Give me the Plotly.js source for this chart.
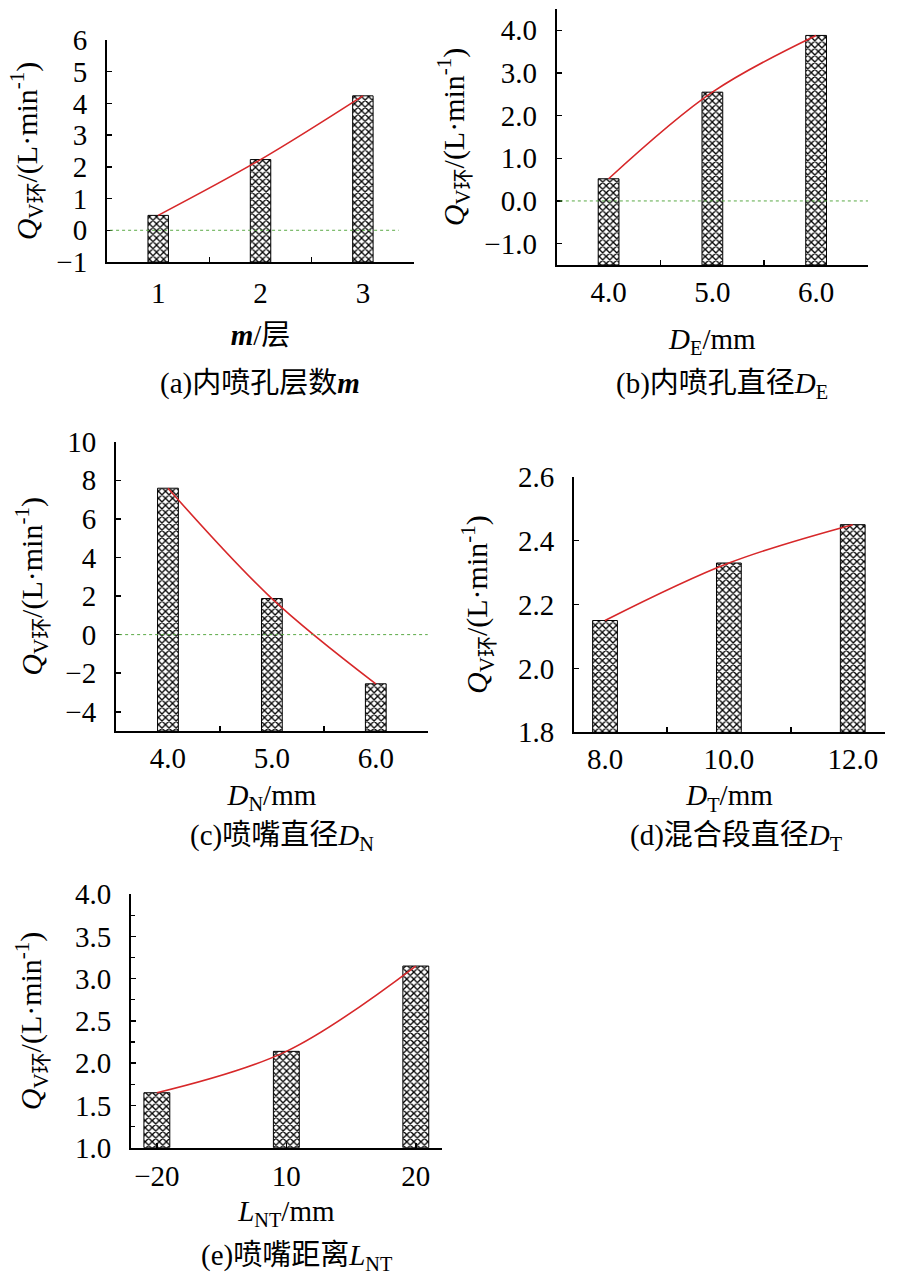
<!DOCTYPE html>
<html>
<head>
<meta charset="utf-8">
<script src="https://cdn.plot.ly/plotly-3.0.1.min.js"></script>
<style>
  html, body { margin: 0; padding: 0; background: #fff; }
  #chart { width: 907px; height: 1283px; }
</style>
</head>
<body>
<div id="chart"></div>
<script>
// values
var layersM = ['1', '2', '3'];
var flowM = [0.47, 2.23, 4.24];

var holeDE = ['4.0', '5.0', '6.0'];
var flowDE = [0.52, 2.55, 3.88];

var nozzleDN = ['4.0', '5.0', '6.0'];
var flowDN = [7.59, 1.87, -2.55];

var mixDT = ['8.0', '10.0', '12.0'];
var flowDT = [2.15, 2.33, 2.45];

var distLNT = ['\u221220', '10', '20'];
var flowLNT = [1.65, 2.14, 3.15];

var serif = '"Liberation Serif", "Noto Sans CJK SC", serif';
var yTitle = '<i>Q</i><sub>V环</sub>/(L·min<sup>-1</sup>)';

var panels = [
  {cats: layersM, vals: flowM, base: -1, yr: [-1, 6], dtick: 1, fmt: 'd',
   xd: [0.118, 0.4565], yd: [0.7958, 0.9688], xr: [-0.5, 2.5], zero: 0.95,
   xt: '<b><i>m</i></b>/层', cap: '(a)内喷孔层数<b><i>m</i></b>', capx: 0.287, capy: 1 - 383 / 1283,
   ystand: 10, xstand: 17, tlab: 4},
  {cats: holeDE, vals: flowDE, base: -1.5, yr: [-1.5, 4.5], dtick: 1, fmt: '.1f',
   xd: [0.6138, 0.957], yd: [0.7935, 0.993], xr: [-0.5, 2.5], zero: 1,
   xt: '<i>D</i><sub>E</sub>/mm', cap: '(b)内喷孔直径<i>D</i><sub>E</sub>', capx: 0.796, capy: 1 - 385 / 1283,
   ystand: 11, xstand: 22, tlab: 0},
  {cats: nozzleDN, vals: flowDN, base: -5, yr: [-5, 10], dtick: 2, fmt: 'd',
   xd: [0.1279, 0.4716], yd: [0.4302, 0.6557], xr: [-0.5, 2.5], zero: 1,
   xt: '<i>D</i><sub>N</sub>/mm', cap: '(c)喷嘴直径<i>D</i><sub>N</sub>', capx: 0.311, capy: 1 - 837 / 1283,
   ystand: 14, xstand: 12, tlab: 0},
  {cats: mixDT, vals: flowDT, base: 1.8, yr: [1.8, 2.6], dtick: 0.2, fmt: '.1f',
   xd: [0.6329, 0.9757], yd: [0.4292, 0.6284], xr: [-0.25, 2.26], zero: null,
   xt: '<i>D</i><sub>T</sub>/mm', cap: '(d)混合段直径<i>D</i><sub>T</sub>', capx: 0.812, capy: 1 - 837 / 1283,
   ystand: 21, xstand: 11, tlab: 0},
  {cats: distLNT, vals: flowLNT, base: 1.0, yr: [1.0, 4.0], dtick: 0.5, fmt: '.1f',
   xd: [0.1444, 0.487], yd: [0.1055, 0.3030], xr: [-0.2, 2.2], zero: null,
   xt: '<i>L</i><sub>NT</sub>/mm', cap: '(e)喷嘴距离<i>L</i><sub>NT</sub>', capx: 0.327, capy: 1 - 1257 / 1283,
   ystand: 24, xstand: 9, tlab: 2, minor: 0.25}
];

var data = [];
var layout = {
  width: 907, height: 1283,
  margin: {l: 0, r: 0, t: 0, b: 0},
  paper_bgcolor: '#fff', plot_bgcolor: 'rgba(0,0,0,0)',
  showlegend: false,
  font: {family: serif, size: 29, color: '#000'},
  shapes: [], annotations: []
};

for (var i = 0; i < panels.length; i++) {
  var p = panels[i];
  var n = i === 0 ? '' : String(i + 1);
  var xa = 'x' + n, ya = 'y' + n;

  // bars start at the bottom of the axis, like the original
  var heights = p.vals.map(function(v) { return v - p.base; });
  data.push({
    type: 'bar', x: p.cats, y: heights, base: p.base,
    xaxis: xa, yaxis: ya, width: 0.2,
    marker: {
      color: '#fff',
      line: {color: '#000', width: 1},
      pattern: {shape: 'x', fgcolor: '#000', bgcolor: '#fff', size: 5, solidity: 0.45}
    },
    hoverinfo: 'skip'
  });
  data.push({
    type: 'scatter', mode: 'lines', x: p.cats, y: p.vals,
    xaxis: xa, yaxis: ya,
    line: {color: '#d7282a', width: 1.6, shape: 'spline'},
    hoverinfo: 'skip'
  });

  layout['xaxis' + n] = {
    type: 'category', domain: p.xd, anchor: ya, range: p.xr,
    showline: true, linecolor: '#000', linewidth: 2,
    ticks: 'inside', tickson: i === 4 ? 'labels' : 'boundaries', ticklen: 5, tickwidth: 1.5, tickcolor: '#000',
    ticklabelstandoff: p.tlab,
    showgrid: false, zeroline: false, fixedrange: true,
    tickfont: {family: serif, size: 29},
    title: {text: p.xt, font: {family: serif, size: 29}, standoff: p.xstand}
  };
  var yax = {
    domain: p.yd, anchor: xa, range: p.yr,
    tick0: 0, dtick: p.dtick, tickformat: p.fmt,
    showline: true, linecolor: '#000', linewidth: 2,
    ticks: 'inside', ticklen: 5, tickwidth: 1.5, tickcolor: '#000',
    ticklabelstandoff: 12,
    showgrid: false, zeroline: false, fixedrange: true,
    tickfont: {family: serif, size: 29},
    title: {text: yTitle, font: {family: serif, size: 30}, standoff: p.ystand}
  };
  if (p.minor) yax.minor = {ticks: 'inside', dtick: p.minor, ticklen: 4, tickwidth: 1.2, tickcolor: '#000'};
  layout['yaxis' + n] = yax;

  if (p.zero !== null) {
    layout.shapes.push({
      type: 'line', xref: xa + ' domain', yref: ya,
      x0: 0.01, x1: p.zero, y0: 0, y1: 0,
      line: {color: '#5aa946', width: 1, dash: 'dot'}
    });
  }
  layout.annotations.push({
    xref: 'paper', yref: 'paper', x: p.capx, y: p.capy,
    xanchor: 'center', yanchor: 'middle', showarrow: false,
    text: p.cap, font: {family: serif, size: 29, color: '#000'}
  });
}

Plotly.newPlot('chart', data, layout, {displayModeBar: false, staticPlot: true});
</script>
</body>
</html>
